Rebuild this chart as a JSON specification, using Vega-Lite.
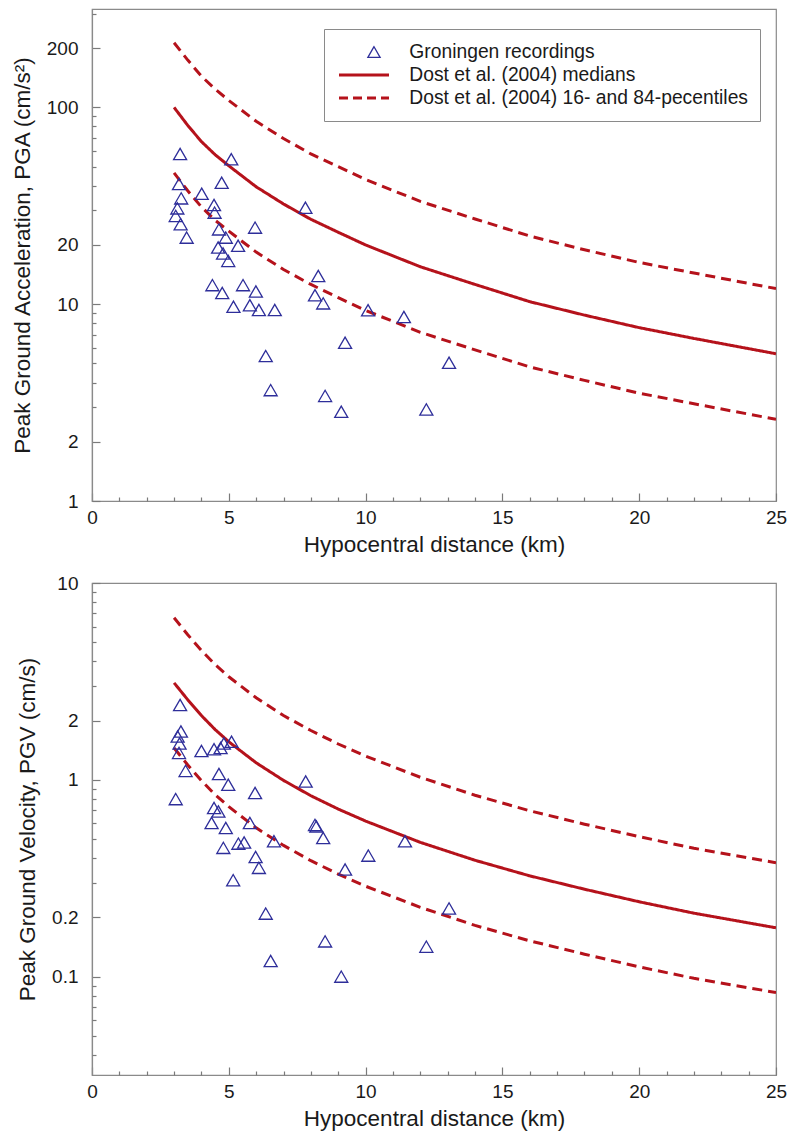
{
  "$schema": "https://vega.github.io/schema/vega-lite/v6.json",
  "padding": {"left": 10, "top": 8, "right": 4, "bottom": 4},
  "background": "white",
  "config": {
    "font": "Liberation Sans",
    "view": {"stroke": "#8a8a8a", "strokeWidth": 1.2},
    "axis": {
      "labelFont": "Liberation Sans", "labelFontSize": 19, "labelColor": "#1a1a1a",
      "titleFont": "Liberation Sans", "titleFontSize": 22.5, "titleFontWeight": "normal", "titleColor": "#1a1a1a",
      "domainColor": "#8a8a8a", "domainWidth": 1.2, "tickColor": "#7a7a7a", "tickWidth": 1.2,
      "grid": false, "labelFlush": false, "labelOverlap": false, "ticks": true, "zindex": 1
    }
  },
  "datasets": {
    "pgaPts": [
      {"d": 3.22, "v": 58, "series": "Groningen recordings"},
      {"d": 5.09, "v": 54.5, "series": "Groningen recordings"},
      {"d": 4.74, "v": 41.4, "series": "Groningen recordings"},
      {"d": 3.18, "v": 40.8, "series": "Groningen recordings"},
      {"d": 4.01, "v": 36.4, "series": "Groningen recordings"},
      {"d": 3.26, "v": 34.5, "series": "Groningen recordings"},
      {"d": 4.46, "v": 31.9, "series": "Groningen recordings"},
      {"d": 7.80, "v": 30.9, "series": "Groningen recordings"},
      {"d": 3.12, "v": 30.7, "series": "Groningen recordings"},
      {"d": 4.48, "v": 29.2, "series": "Groningen recordings"},
      {"d": 3.06, "v": 28.1, "series": "Groningen recordings"},
      {"d": 3.24, "v": 25.5, "series": "Groningen recordings"},
      {"d": 5.96, "v": 24.5, "series": "Groningen recordings"},
      {"d": 4.64, "v": 24.0, "series": "Groningen recordings"},
      {"d": 3.46, "v": 21.8, "series": "Groningen recordings"},
      {"d": 4.89, "v": 21.8, "series": "Groningen recordings"},
      {"d": 5.34, "v": 19.8, "series": "Groningen recordings"},
      {"d": 4.61, "v": 19.4, "series": "Groningen recordings"},
      {"d": 4.79, "v": 18.1, "series": "Groningen recordings"},
      {"d": 4.98, "v": 16.6, "series": "Groningen recordings"},
      {"d": 8.27, "v": 13.9, "series": "Groningen recordings"},
      {"d": 4.40, "v": 12.5, "series": "Groningen recordings"},
      {"d": 5.52, "v": 12.5, "series": "Groningen recordings"},
      {"d": 4.76, "v": 11.4, "series": "Groningen recordings"},
      {"d": 5.99, "v": 11.6, "series": "Groningen recordings"},
      {"d": 8.15, "v": 11.1, "series": "Groningen recordings"},
      {"d": 5.17, "v": 9.71, "series": "Groningen recordings"},
      {"d": 5.77, "v": 9.87, "series": "Groningen recordings"},
      {"d": 6.10, "v": 9.34, "series": "Groningen recordings"},
      {"d": 6.68, "v": 9.34, "series": "Groningen recordings"},
      {"d": 8.45, "v": 10.1, "series": "Groningen recordings"},
      {"d": 10.09, "v": 9.31, "series": "Groningen recordings"},
      {"d": 9.25, "v": 6.37, "series": "Groningen recordings"},
      {"d": 6.35, "v": 5.45, "series": "Groningen recordings"},
      {"d": 6.53, "v": 3.66, "series": "Groningen recordings"},
      {"d": 8.52, "v": 3.42, "series": "Groningen recordings"},
      {"d": 9.11, "v": 2.84, "series": "Groningen recordings"},
      {"d": 11.40, "v": 8.61, "series": "Groningen recordings"},
      {"d": 13.05, "v": 5.04, "series": "Groningen recordings"},
      {"d": 12.22, "v": 2.92, "series": "Groningen recordings"}
    ],
    "pgvPts": [
      {"d": 3.22, "v": 2.40, "series": "Groningen recordings"},
      {"d": 3.25, "v": 1.76, "series": "Groningen recordings"},
      {"d": 3.13, "v": 1.66, "series": "Groningen recordings"},
      {"d": 3.20, "v": 1.53, "series": "Groningen recordings"},
      {"d": 3.18, "v": 1.37, "series": "Groningen recordings"},
      {"d": 4.00, "v": 1.40, "series": "Groningen recordings"},
      {"d": 4.46, "v": 1.43, "series": "Groningen recordings"},
      {"d": 4.70, "v": 1.45, "series": "Groningen recordings"},
      {"d": 4.82, "v": 1.53, "series": "Groningen recordings"},
      {"d": 5.10, "v": 1.56, "series": "Groningen recordings"},
      {"d": 3.42, "v": 1.11, "series": "Groningen recordings"},
      {"d": 4.64, "v": 1.07, "series": "Groningen recordings"},
      {"d": 4.98, "v": 0.944, "series": "Groningen recordings"},
      {"d": 5.96, "v": 0.857, "series": "Groningen recordings"},
      {"d": 3.06, "v": 0.798, "series": "Groningen recordings"},
      {"d": 7.81, "v": 0.98, "series": "Groningen recordings"},
      {"d": 4.46, "v": 0.719, "series": "Groningen recordings"},
      {"d": 4.62, "v": 0.69, "series": "Groningen recordings"},
      {"d": 4.37, "v": 0.603, "series": "Groningen recordings"},
      {"d": 4.89, "v": 0.569, "series": "Groningen recordings"},
      {"d": 5.77, "v": 0.603, "series": "Groningen recordings"},
      {"d": 8.20, "v": 0.58, "series": "Groningen recordings"},
      {"d": 8.15, "v": 0.59, "series": "Groningen recordings"},
      {"d": 8.45, "v": 0.506, "series": "Groningen recordings"},
      {"d": 6.65, "v": 0.487, "series": "Groningen recordings"},
      {"d": 4.80, "v": 0.451, "series": "Groningen recordings"},
      {"d": 5.35, "v": 0.474, "series": "Groningen recordings"},
      {"d": 5.56, "v": 0.48, "series": "Groningen recordings"},
      {"d": 5.98, "v": 0.405, "series": "Groningen recordings"},
      {"d": 6.10, "v": 0.357, "series": "Groningen recordings"},
      {"d": 5.16, "v": 0.309, "series": "Groningen recordings"},
      {"d": 10.1, "v": 0.412, "series": "Groningen recordings"},
      {"d": 9.25, "v": 0.35, "series": "Groningen recordings"},
      {"d": 11.44, "v": 0.487, "series": "Groningen recordings"},
      {"d": 13.05, "v": 0.222, "series": "Groningen recordings"},
      {"d": 8.52, "v": 0.151, "series": "Groningen recordings"},
      {"d": 12.22, "v": 0.142, "series": "Groningen recordings"},
      {"d": 6.35, "v": 0.209, "series": "Groningen recordings"},
      {"d": 6.53, "v": 0.12, "series": "Groningen recordings"},
      {"d": 9.11, "v": 0.1, "series": "Groningen recordings"}
    ],
    "pgaCurves": [
      {"d": 3, "v": 100, "series": "Dost et al. (2004) medians", "curve": "median"},
      {"d": 3.5, "v": 81, "series": "Dost et al. (2004) medians", "curve": "median"},
      {"d": 4, "v": 67, "series": "Dost et al. (2004) medians", "curve": "median"},
      {"d": 4.5, "v": 57.5, "series": "Dost et al. (2004) medians", "curve": "median"},
      {"d": 5, "v": 50.5, "series": "Dost et al. (2004) medians", "curve": "median"},
      {"d": 6, "v": 39.5, "series": "Dost et al. (2004) medians", "curve": "median"},
      {"d": 7, "v": 32.3, "series": "Dost et al. (2004) medians", "curve": "median"},
      {"d": 8, "v": 27, "series": "Dost et al. (2004) medians", "curve": "median"},
      {"d": 9, "v": 23.2, "series": "Dost et al. (2004) medians", "curve": "median"},
      {"d": 10, "v": 20, "series": "Dost et al. (2004) medians", "curve": "median"},
      {"d": 12, "v": 15.5, "series": "Dost et al. (2004) medians", "curve": "median"},
      {"d": 14, "v": 12.6, "series": "Dost et al. (2004) medians", "curve": "median"},
      {"d": 16, "v": 10.3, "series": "Dost et al. (2004) medians", "curve": "median"},
      {"d": 18, "v": 8.8, "series": "Dost et al. (2004) medians", "curve": "median"},
      {"d": 20, "v": 7.6, "series": "Dost et al. (2004) medians", "curve": "median"},
      {"d": 22, "v": 6.7, "series": "Dost et al. (2004) medians", "curve": "median"},
      {"d": 25, "v": 5.6, "series": "Dost et al. (2004) medians", "curve": "median"},
      {"d": 3, "v": 213, "series": "Dost et al. (2004) 16- and 84-pecentiles", "curve": "p84"},
      {"d": 3.5, "v": 174, "series": "Dost et al. (2004) 16- and 84-pecentiles", "curve": "p84"},
      {"d": 4, "v": 144, "series": "Dost et al. (2004) 16- and 84-pecentiles", "curve": "p84"},
      {"d": 4.5, "v": 124, "series": "Dost et al. (2004) 16- and 84-pecentiles", "curve": "p84"},
      {"d": 5, "v": 108.5, "series": "Dost et al. (2004) 16- and 84-pecentiles", "curve": "p84"},
      {"d": 6, "v": 85, "series": "Dost et al. (2004) 16- and 84-pecentiles", "curve": "p84"},
      {"d": 7, "v": 69.5, "series": "Dost et al. (2004) 16- and 84-pecentiles", "curve": "p84"},
      {"d": 8, "v": 58, "series": "Dost et al. (2004) 16- and 84-pecentiles", "curve": "p84"},
      {"d": 9, "v": 50, "series": "Dost et al. (2004) 16- and 84-pecentiles", "curve": "p84"},
      {"d": 10, "v": 43, "series": "Dost et al. (2004) 16- and 84-pecentiles", "curve": "p84"},
      {"d": 12, "v": 33.3, "series": "Dost et al. (2004) 16- and 84-pecentiles", "curve": "p84"},
      {"d": 14, "v": 27.1, "series": "Dost et al. (2004) 16- and 84-pecentiles", "curve": "p84"},
      {"d": 16, "v": 22.2, "series": "Dost et al. (2004) 16- and 84-pecentiles", "curve": "p84"},
      {"d": 18, "v": 18.9, "series": "Dost et al. (2004) 16- and 84-pecentiles", "curve": "p84"},
      {"d": 20, "v": 16.3, "series": "Dost et al. (2004) 16- and 84-pecentiles", "curve": "p84"},
      {"d": 22, "v": 14.4, "series": "Dost et al. (2004) 16- and 84-pecentiles", "curve": "p84"},
      {"d": 25, "v": 12.0, "series": "Dost et al. (2004) 16- and 84-pecentiles", "curve": "p84"},
      {"d": 3, "v": 46.5, "series": "Dost et al. (2004) 16- and 84-pecentiles", "curve": "p16"},
      {"d": 3.5, "v": 37.7, "series": "Dost et al. (2004) 16- and 84-pecentiles", "curve": "p16"},
      {"d": 4, "v": 31.2, "series": "Dost et al. (2004) 16- and 84-pecentiles", "curve": "p16"},
      {"d": 4.5, "v": 26.7, "series": "Dost et al. (2004) 16- and 84-pecentiles", "curve": "p16"},
      {"d": 5, "v": 23.5, "series": "Dost et al. (2004) 16- and 84-pecentiles", "curve": "p16"},
      {"d": 6, "v": 18.4, "series": "Dost et al. (2004) 16- and 84-pecentiles", "curve": "p16"},
      {"d": 7, "v": 15.0, "series": "Dost et al. (2004) 16- and 84-pecentiles", "curve": "p16"},
      {"d": 8, "v": 12.6, "series": "Dost et al. (2004) 16- and 84-pecentiles", "curve": "p16"},
      {"d": 9, "v": 10.8, "series": "Dost et al. (2004) 16- and 84-pecentiles", "curve": "p16"},
      {"d": 10, "v": 9.3, "series": "Dost et al. (2004) 16- and 84-pecentiles", "curve": "p16"},
      {"d": 12, "v": 7.2, "series": "Dost et al. (2004) 16- and 84-pecentiles", "curve": "p16"},
      {"d": 14, "v": 5.86, "series": "Dost et al. (2004) 16- and 84-pecentiles", "curve": "p16"},
      {"d": 16, "v": 4.8, "series": "Dost et al. (2004) 16- and 84-pecentiles", "curve": "p16"},
      {"d": 18, "v": 4.1, "series": "Dost et al. (2004) 16- and 84-pecentiles", "curve": "p16"},
      {"d": 20, "v": 3.53, "series": "Dost et al. (2004) 16- and 84-pecentiles", "curve": "p16"},
      {"d": 22, "v": 3.12, "series": "Dost et al. (2004) 16- and 84-pecentiles", "curve": "p16"},
      {"d": 25, "v": 2.6, "series": "Dost et al. (2004) 16- and 84-pecentiles", "curve": "p16"}
    ],
    "pgvCurves": [
      {"d": 3, "v": 3.11, "series": "Dost et al. (2004) medians", "curve": "median"},
      {"d": 3.5, "v": 2.55, "series": "Dost et al. (2004) medians", "curve": "median"},
      {"d": 4, "v": 2.12, "series": "Dost et al. (2004) medians", "curve": "median"},
      {"d": 4.5, "v": 1.80, "series": "Dost et al. (2004) medians", "curve": "median"},
      {"d": 5, "v": 1.56, "series": "Dost et al. (2004) medians", "curve": "median"},
      {"d": 6, "v": 1.22, "series": "Dost et al. (2004) medians", "curve": "median"},
      {"d": 7, "v": 0.993, "series": "Dost et al. (2004) medians", "curve": "median"},
      {"d": 8, "v": 0.83, "series": "Dost et al. (2004) medians", "curve": "median"},
      {"d": 9, "v": 0.71, "series": "Dost et al. (2004) medians", "curve": "median"},
      {"d": 10, "v": 0.617, "series": "Dost et al. (2004) medians", "curve": "median"},
      {"d": 12, "v": 0.481, "series": "Dost et al. (2004) medians", "curve": "median"},
      {"d": 14, "v": 0.39, "series": "Dost et al. (2004) medians", "curve": "median"},
      {"d": 16, "v": 0.325, "series": "Dost et al. (2004) medians", "curve": "median"},
      {"d": 18, "v": 0.278, "series": "Dost et al. (2004) medians", "curve": "median"},
      {"d": 20, "v": 0.240, "series": "Dost et al. (2004) medians", "curve": "median"},
      {"d": 22, "v": 0.21, "series": "Dost et al. (2004) medians", "curve": "median"},
      {"d": 25, "v": 0.177, "series": "Dost et al. (2004) medians", "curve": "median"},
      {"d": 3, "v": 6.66, "series": "Dost et al. (2004) 16- and 84-pecentiles", "curve": "p84"},
      {"d": 3.5, "v": 5.46, "series": "Dost et al. (2004) 16- and 84-pecentiles", "curve": "p84"},
      {"d": 4, "v": 4.54, "series": "Dost et al. (2004) 16- and 84-pecentiles", "curve": "p84"},
      {"d": 4.5, "v": 3.85, "series": "Dost et al. (2004) 16- and 84-pecentiles", "curve": "p84"},
      {"d": 5, "v": 3.34, "series": "Dost et al. (2004) 16- and 84-pecentiles", "curve": "p84"},
      {"d": 6, "v": 2.61, "series": "Dost et al. (2004) 16- and 84-pecentiles", "curve": "p84"},
      {"d": 7, "v": 2.12, "series": "Dost et al. (2004) 16- and 84-pecentiles", "curve": "p84"},
      {"d": 8, "v": 1.78, "series": "Dost et al. (2004) 16- and 84-pecentiles", "curve": "p84"},
      {"d": 9, "v": 1.52, "series": "Dost et al. (2004) 16- and 84-pecentiles", "curve": "p84"},
      {"d": 10, "v": 1.32, "series": "Dost et al. (2004) 16- and 84-pecentiles", "curve": "p84"},
      {"d": 12, "v": 1.03, "series": "Dost et al. (2004) 16- and 84-pecentiles", "curve": "p84"},
      {"d": 14, "v": 0.835, "series": "Dost et al. (2004) 16- and 84-pecentiles", "curve": "p84"},
      {"d": 16, "v": 0.696, "series": "Dost et al. (2004) 16- and 84-pecentiles", "curve": "p84"},
      {"d": 18, "v": 0.595, "series": "Dost et al. (2004) 16- and 84-pecentiles", "curve": "p84"},
      {"d": 20, "v": 0.514, "series": "Dost et al. (2004) 16- and 84-pecentiles", "curve": "p84"},
      {"d": 22, "v": 0.449, "series": "Dost et al. (2004) 16- and 84-pecentiles", "curve": "p84"},
      {"d": 25, "v": 0.379, "series": "Dost et al. (2004) 16- and 84-pecentiles", "curve": "p84"},
      {"d": 3, "v": 1.45, "series": "Dost et al. (2004) 16- and 84-pecentiles", "curve": "p16"},
      {"d": 3.5, "v": 1.19, "series": "Dost et al. (2004) 16- and 84-pecentiles", "curve": "p16"},
      {"d": 4, "v": 0.99, "series": "Dost et al. (2004) 16- and 84-pecentiles", "curve": "p16"},
      {"d": 4.5, "v": 0.84, "series": "Dost et al. (2004) 16- and 84-pecentiles", "curve": "p16"},
      {"d": 5, "v": 0.73, "series": "Dost et al. (2004) 16- and 84-pecentiles", "curve": "p16"},
      {"d": 6, "v": 0.57, "series": "Dost et al. (2004) 16- and 84-pecentiles", "curve": "p16"},
      {"d": 7, "v": 0.464, "series": "Dost et al. (2004) 16- and 84-pecentiles", "curve": "p16"},
      {"d": 8, "v": 0.388, "series": "Dost et al. (2004) 16- and 84-pecentiles", "curve": "p16"},
      {"d": 9, "v": 0.332, "series": "Dost et al. (2004) 16- and 84-pecentiles", "curve": "p16"},
      {"d": 10, "v": 0.288, "series": "Dost et al. (2004) 16- and 84-pecentiles", "curve": "p16"},
      {"d": 12, "v": 0.225, "series": "Dost et al. (2004) 16- and 84-pecentiles", "curve": "p16"},
      {"d": 14, "v": 0.182, "series": "Dost et al. (2004) 16- and 84-pecentiles", "curve": "p16"},
      {"d": 16, "v": 0.152, "series": "Dost et al. (2004) 16- and 84-pecentiles", "curve": "p16"},
      {"d": 18, "v": 0.130, "series": "Dost et al. (2004) 16- and 84-pecentiles", "curve": "p16"},
      {"d": 20, "v": 0.112, "series": "Dost et al. (2004) 16- and 84-pecentiles", "curve": "p16"},
      {"d": 22, "v": 0.098, "series": "Dost et al. (2004) 16- and 84-pecentiles", "curve": "p16"},
      {"d": 25, "v": 0.083, "series": "Dost et al. (2004) 16- and 84-pecentiles", "curve": "p16"}
    ]
  },
  "spacing": 16,
  "resolve": {"scale": {"color": "independent", "strokeDash": "independent"}},
  "vconcat": [
    {
      "width": 684,
      "height": 492,
      "resolve": {"axis": {"x": "independent", "y": "independent"}},
      "layer": [
        {
          "data": {"name": "pgaCurves"},
          "mark": {"type": "line", "strokeWidth": 3, "clip": true},
          "encoding": {
            "x": {
              "field": "d", "type": "quantitative",
              "scale": {"domain": [0, 25], "nice": false, "zero": false},
              "axis": {
                "orient": "bottom",
                "title": "Hypocentral distance (km)",
                "values": [0, 5, 10, 15, 20, 25],
                "format": "d",
                "labelOverlap": false,
                "tickSize": -8,
                "labelPadding": 15,
                "titlePadding": 6
              }
            },
            "y": {
              "field": "v", "type": "quantitative",
              "scale": {"type": "log", "domain": [1, 316.2278], "nice": false},
              "axis": {
                "orient": "left",
                "title": "Peak Ground Acceleration, PGA (cm/s²)",
                "values": [1, 2, 10, 20, 100, 200],
                "labelExpr": "format(datum.value, '~g')",
                "labelOverlap": false,
                "tickSize": -8,
                "labelPadding": 22,
                "titlePadding": 12
              }
            },
            "color": {
              "field": "series", "type": "nominal",
              "scale": {
                "domain": ["Groningen recordings", "Dost et al. (2004) medians", "Dost et al. (2004) 16- and 84-pecentiles"],
                "range": ["#2e2e9a", "#b5121b", "#b5121b"]
              },
              "legend": {
                "title": null,
                "orient": "none",
                "legendX": 232,
                "legendY": 20,
                "padding": 12,
                "strokeColor": "#8a8a8a",
                "fillColor": "white",
                "labelFont": "Liberation Sans",
                "labelFontSize": 19.3,
                "labelColor": "#1a1a1a",
                "labelLimit": 500,
                "labelOffset": 54,
                "clipHeight": 22,
                "rowPadding": 1,
                "symbolType": "stroke",
                "symbolSize": 2500,
                "symbolStrokeWidth": 3,
                "encode": {
                  "symbols": {
                    "update": {
                      "shape": {"signal": "datum.value === 'Groningen recordings' ? 'triangle-up' : 'stroke'"},
                      "size": {"signal": "datum.value === 'Groningen recordings' ? 150 : 2500"},
                      "x": {"signal": "datum.value === 'Groningen recordings' ? 38 : 28"},
                      "strokeDash": {"signal": "datum.value === 'Dost et al. (2004) 16- and 84-pecentiles' ? [9,5] : []"},
                      "strokeWidth": {"signal": "datum.value === 'Groningen recordings' ? 1.3 : 3"},
                      "fill": {"value": "transparent"},
                      "stroke": {"signal": "datum.value === 'Groningen recordings' ? '#2e2e9a' : '#b5121b'"},
                      "opacity": {"value": 1}
                    }
                  }
                }
              }
            },
            "strokeDash": {
              "field": "series", "type": "nominal",
              "scale": {"domain": ["Dost et al. (2004) medians", "Dost et al. (2004) 16- and 84-pecentiles"], "range": [[1, 0], [10, 6]]},
              "legend": null
            },
            "detail": {"field": "curve"}
          }
        },
        {
          "data": {"name": "pgaPts"},
          "mark": {"type": "point", "shape": "triangle-up", "size": 170, "filled": false, "strokeWidth": 1.3, "opacity": 1},
          "encoding": {
            "x": {
              "field": "d", "type": "quantitative",
              "axis": {
                "orient": "bottom", "title": null, "labels": false, "domain": false,
                "values": [1,2,3,4,6,7,8,9,11,12,13,14,16,17,18,19,21,22,23,24],
                "tickSize": -4
              }
            },
            "y": {
              "field": "v", "type": "quantitative",
              "axis": {
                "orient": "left", "title": null, "labels": false, "domain": false,
                "values": [3,4,5,6,7,8,9,30,40,50,60,70,80,90,300],
                "tickSize": -4
              }
            },
            "color": {"field": "series", "type": "nominal"}
          }
        }
      ]
    },
    {
      "width": 684,
      "height": 492,
      "resolve": {"axis": {"x": "independent", "y": "independent"}},
      "layer": [
        {
          "data": {"name": "pgvCurves"},
          "mark": {"type": "line", "strokeWidth": 3, "clip": true},
          "encoding": {
            "x": {
              "field": "d", "type": "quantitative",
              "scale": {"domain": [0, 25], "nice": false, "zero": false},
              "axis": {
                "orient": "bottom",
                "title": "Hypocentral distance (km)",
                "values": [0, 5, 10, 15, 20, 25],
                "format": "d",
                "labelOverlap": false,
                "tickSize": -8,
                "labelPadding": 15,
                "titlePadding": 6
              }
            },
            "y": {
              "field": "v", "type": "quantitative",
              "scale": {"type": "log", "domain": [0.0316228, 10], "nice": false},
              "axis": {
                "orient": "left",
                "title": "Peak Ground Velocity, PGV (cm/s)",
                "values": [0.1, 0.2, 1, 2, 10],
                "labelExpr": "format(datum.value, '~g')",
                "labelOverlap": false,
                "tickSize": -8,
                "labelPadding": 22,
                "titlePadding": 12
              }
            },
            "color": {
              "field": "series", "type": "nominal",
              "scale": {
                "domain": ["Groningen recordings", "Dost et al. (2004) medians", "Dost et al. (2004) 16- and 84-pecentiles"],
                "range": ["#2e2e9a", "#b5121b", "#b5121b"]
              },
              "legend": null
            },
            "strokeDash": {
              "field": "series", "type": "nominal",
              "scale": {"domain": ["Dost et al. (2004) medians", "Dost et al. (2004) 16- and 84-pecentiles"], "range": [[1, 0], [10, 6]]},
              "legend": null
            },
            "detail": {"field": "curve"}
          }
        },
        {
          "data": {"name": "pgvPts"},
          "mark": {"type": "point", "shape": "triangle-up", "size": 170, "filled": false, "strokeWidth": 1.3, "opacity": 1},
          "encoding": {
            "x": {
              "field": "d", "type": "quantitative",
              "axis": {
                "orient": "bottom", "title": null, "labels": false, "domain": false,
                "values": [1,2,3,4,6,7,8,9,11,12,13,14,16,17,18,19,21,22,23,24],
                "tickSize": -4
              }
            },
            "y": {
              "field": "v", "type": "quantitative",
              "axis": {
                "orient": "left", "title": null, "labels": false, "domain": false,
                "values": [0.04,0.05,0.06,0.07,0.08,0.09,0.3,0.4,0.5,0.6,0.7,0.8,0.9,3,4,5,6,7,8,9],
                "tickSize": -4
              }
            },
            "color": {"field": "series", "type": "nominal"}
          }
        }
      ]
    }
  ]
}
